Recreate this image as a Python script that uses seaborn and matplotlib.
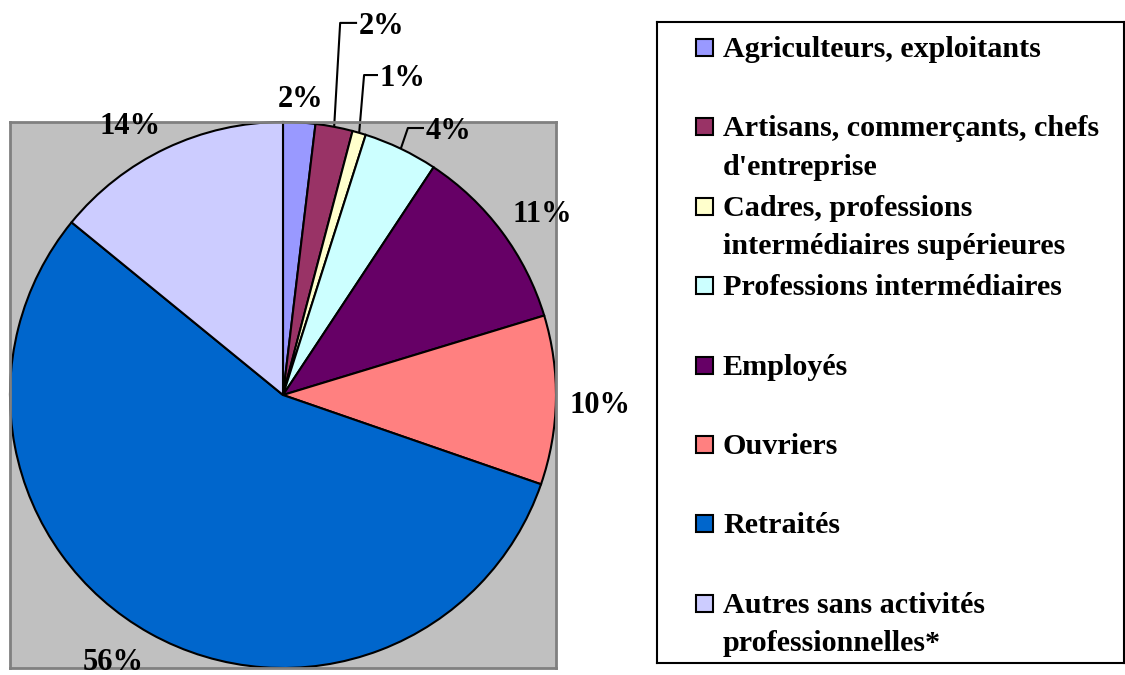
import matplotlib
matplotlib.use("Agg")
import numpy as np
import matplotlib.pyplot as plt
import seaborn as sns
from matplotlib.patches import Rectangle

# data (share of each category, %)
categories = [
    "Agriculteurs, exploitants",
    "Artisans, commerçants, chefs\nd'entreprise",
    "Cadres, professions\nintermédiaires supérieures",
    "Professions intermédiaires",
    "Employés",
    "Ouvriers",
    "Retraités",
    "Autres sans activités\nprofessionnelles*",
]
shares = [1.9, 2.2, 0.8, 4.4, 11.0, 10.0, 55.6, 14.1]
colors = ["#9999FF", "#993366", "#FFFFCC", "#CCFFFF",
          "#660066", "#FF8080", "#0066CC", "#CCCCFF"]

sns.set_theme(style="white")
plt.rcParams['font.family'] = ['Liberation Serif', 'DejaVu Serif']
plt.rcParams['font.weight'] = 'bold'
plt.rcParams['text.color'] = 'black'

W, H = 1125, 675
FS = 22      # percentage labels
LFS = 21.7   # legend entries
fig = plt.figure(figsize=(W / 100, H / 100), dpi=100)


def px_axes(x0, y0, x1, y1):
    return fig.add_axes([x0 / W, 1 - y1 / H, (x1 - x0) / W, (y1 - y0) / H])


# pie on a grey square
ax = px_axes(10, 122, 556, 668)
wedges, _ = ax.pie(shares, colors=sns.color_palette(colors), startangle=90,
                   counterclock=False, radius=1,
                   wedgeprops=dict(edgecolor='black', linewidth=1.5))
ax.set_xlim(-1, 1)
ax.set_ylim(-1, 1)
ax.set_frame_on(True)
ax.set_facecolor('#C0C0C0')
for s in ax.spines.values():
    s.set_color('#808080')
    s.set_linewidth(2)

# small slices get a leader line: (elbow dx, label y, horizontal length)
leaders = {1: (0.022, 1.363, 0.062), 2: (0.018, 1.172, 0.051), 3: (0.026, 0.978, 0.059)}

for i, (w, v) in enumerate(zip(wedges, shares)):
    theta = np.deg2rad((w.theta1 + w.theta2) / 2)
    ux, uy = np.cos(theta), np.sin(theta)
    label = f"{v:.0f}%"
    if i in leaders:
        dx, ly, ln = leaders[i]
        xs = [ux, ux + dx, ux + dx + ln]
        ys = [uy, ly, ly]
        ax.plot(xs, ys, color='black', lw=1.5, clip_on=False, solid_capstyle='butt')
        ax.text(xs[-1] + 0.005, ly - 0.012, label, ha='left', va='center',
                fontsize=FS, fontweight='bold', clip_on=False)
    else:
        ha = 'left' if ux > 0.3 else ('right' if ux < -0.3 else 'center')
        va = 'bottom' if uy > 0.3 else ('top' if uy < -0.3 else 'center')
        dy = -0.01 if va == 'top' else -0.02
        ax.text(1.05 * ux, 1.05 * uy + dy, label, ha=ha, va=va,
                fontsize=FS, fontweight='bold', clip_on=False)

# legend box drawn by hand so entries keep an even pitch
lax = px_axes(657, 22, 1124, 663)
lax.set_xlim(657, 1124)
lax.set_ylim(663, 22)
lax.set_xticks([])
lax.set_yticks([])
lax.set_facecolor('white')
for s in lax.spines.values():
    s.set_color('black')
    s.set_linewidth(1.5)

for i, (cat, col) in enumerate(zip(categories, colors)):
    base = 57 + i * 79.4
    lax.add_patch(Rectangle((696, base - 18), 17, 17, facecolor=col,
                            edgecolor='black', lw=1.5))
    lax.text(723, base - 21, cat, ha='left', va='top', fontsize=LFS,
             fontweight='bold', linespacing=1.55)

fig.savefig('out.png', dpi=100)
